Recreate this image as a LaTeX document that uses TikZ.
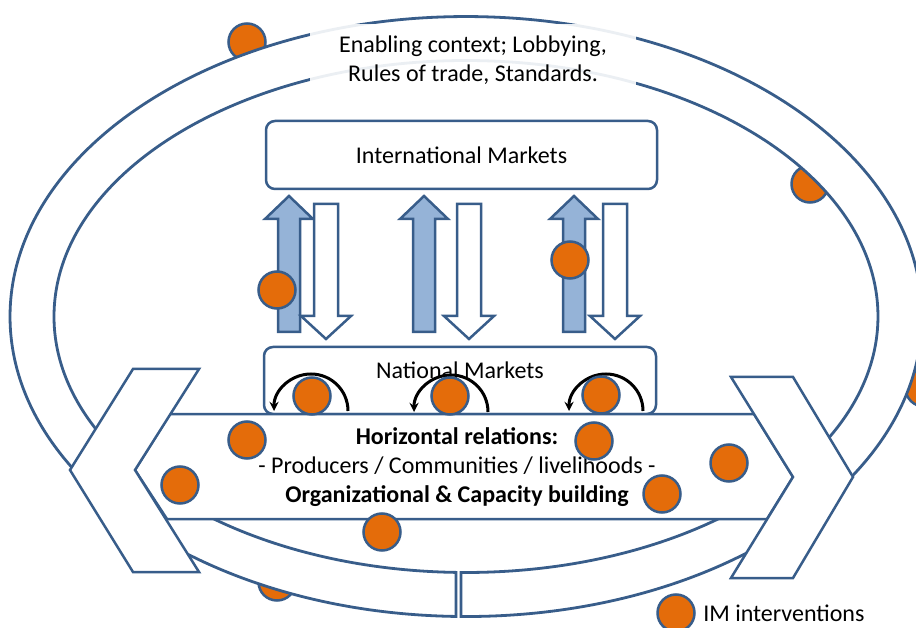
\documentclass[tikz,border=0pt]{standalone}
\usepackage{fontspec}
\setmainfont{Carlito}
\usepackage{tikz}
\usetikzlibrary{positioning}

\definecolor{imblue}{RGB}{56,93,138}
\definecolor{imlight}{RGB}{149,179,215}
\definecolor{imorange}{RGB}{228,108,10}

\begin{document}
\begin{tikzpicture}[x=1pt, y=-1pt, >=stealth,
  font=\fontsize{24}{29}\selectfont,
  mktbox/.style={draw=imblue, line width=2.5pt, rounded corners=9pt, fill=white},
  ring/.style={draw=imblue, line width=2.8pt, fill=white},
  band/.style={draw=imblue, line width=2.5pt, fill=white},
  upbar/.style={draw=imblue, line width=2.5pt, fill=imlight},
  downbar/.style={draw=imblue, line width=2.5pt, fill=white},
  swirl/.style={->, black, line width=3pt},
  imdot/.style={circle, draw=imblue, line width=2.5pt, fill=imorange, minimum size=37pt, inner sep=0pt}]
\clip (0,0) rectangle (916,628);
\fill[white] (0,0) rectangle (916,628);

% interventions hidden behind the ring
\foreach \x/\y [count=\i] in {247/42, 810/184, 277/582, 924/388}
  \node[imdot] (back\i) at (\x,\y) {};

% outer ring, cut open at the bottom
\draw[ring] (461,616.5) arc[start angle=269.37, end angle=628.74, x radius=456pt, y radius=300pt]
  -- (456,572.4) arc[start angle=628.61, end angle=269.30, x radius=412pt, y radius=256pt] -- cycle;

% enabling context
\node[fill=white, fill opacity=0.9, text opacity=1, minimum width=326pt, minimum height=72pt,
  align=center, inner sep=0pt] (ctx) at (473,60) {Enabling context; Lobbying,\\Rules of trade, Standards.};

% markets
\node[mktbox, minimum width=391pt, minimum height=68pt] (intl) at (461.5,155) {International Markets};
\node[mktbox, minimum width=392pt, minimum height=67pt] (nat) at (460,380.5) {};
\node[anchor=base] (natlbl) at (460,378) {National Markets};

% trade flows up and down
\foreach \u/\d in {289/326, 424/469, 574/615} {
  \draw[upbar] (\u-11,332) -- (\u-11,219) -- (\u-24,219) -- (\u,196) -- (\u+24,219)
    -- (\u+11,219) -- (\u+11,332) -- cycle;
  \draw[downbar] (\d-12,204) -- (\d+12,204) -- (\d+12,316) -- (\d+25,316) -- (\d,339)
    -- (\d-25,316) -- (\d-12,316) -- cycle;
}

% horizontal band with its two heads
\draw[band] (170,414) -- (754,414) -- (793,477) -- (767,519) -- (167,519) -- (135,470) -- cycle;
\draw[band] (133,369) -- (199,369) -- (135,470) -- (199,572) -- (133,572) -- (70,470) -- cycle;
\draw[band] (731,377) -- (793,377) -- (853,477) -- (793,578) -- (731,578) -- (793,477) -- cycle;
\node[align=center, inner sep=0pt] (horiz) at (457,467)
  {\textbf{Horizontal relations:}\\- Producers / Communities / livelihoods -\\\textbf{Organizational \& Capacity building}};

% local exchange loops
\coordinate (lp1) at (348,411);
\coordinate (lp2) at (488,412);
\coordinate (lp3) at (643,411);
\foreach \c in {lp1, lp2, lp3}
  \draw[swirl] (\c) arc[start angle=0, end angle=180, radius=37pt];

% interventions
\foreach \x/\y [count=\i] in {277/290, 570/260, 312/396, 450/396, 601/395, 247/440,
    180/485, 382/532, 594/441, 729/463, 662/494}
  \node[imdot] (im\i) at (\x,\y) {};

% key
\node[imdot] (key) at (676,613) {};
\node[right=4pt of key] (keylbl) {IM interventions};
\end{tikzpicture}
\end{document}
